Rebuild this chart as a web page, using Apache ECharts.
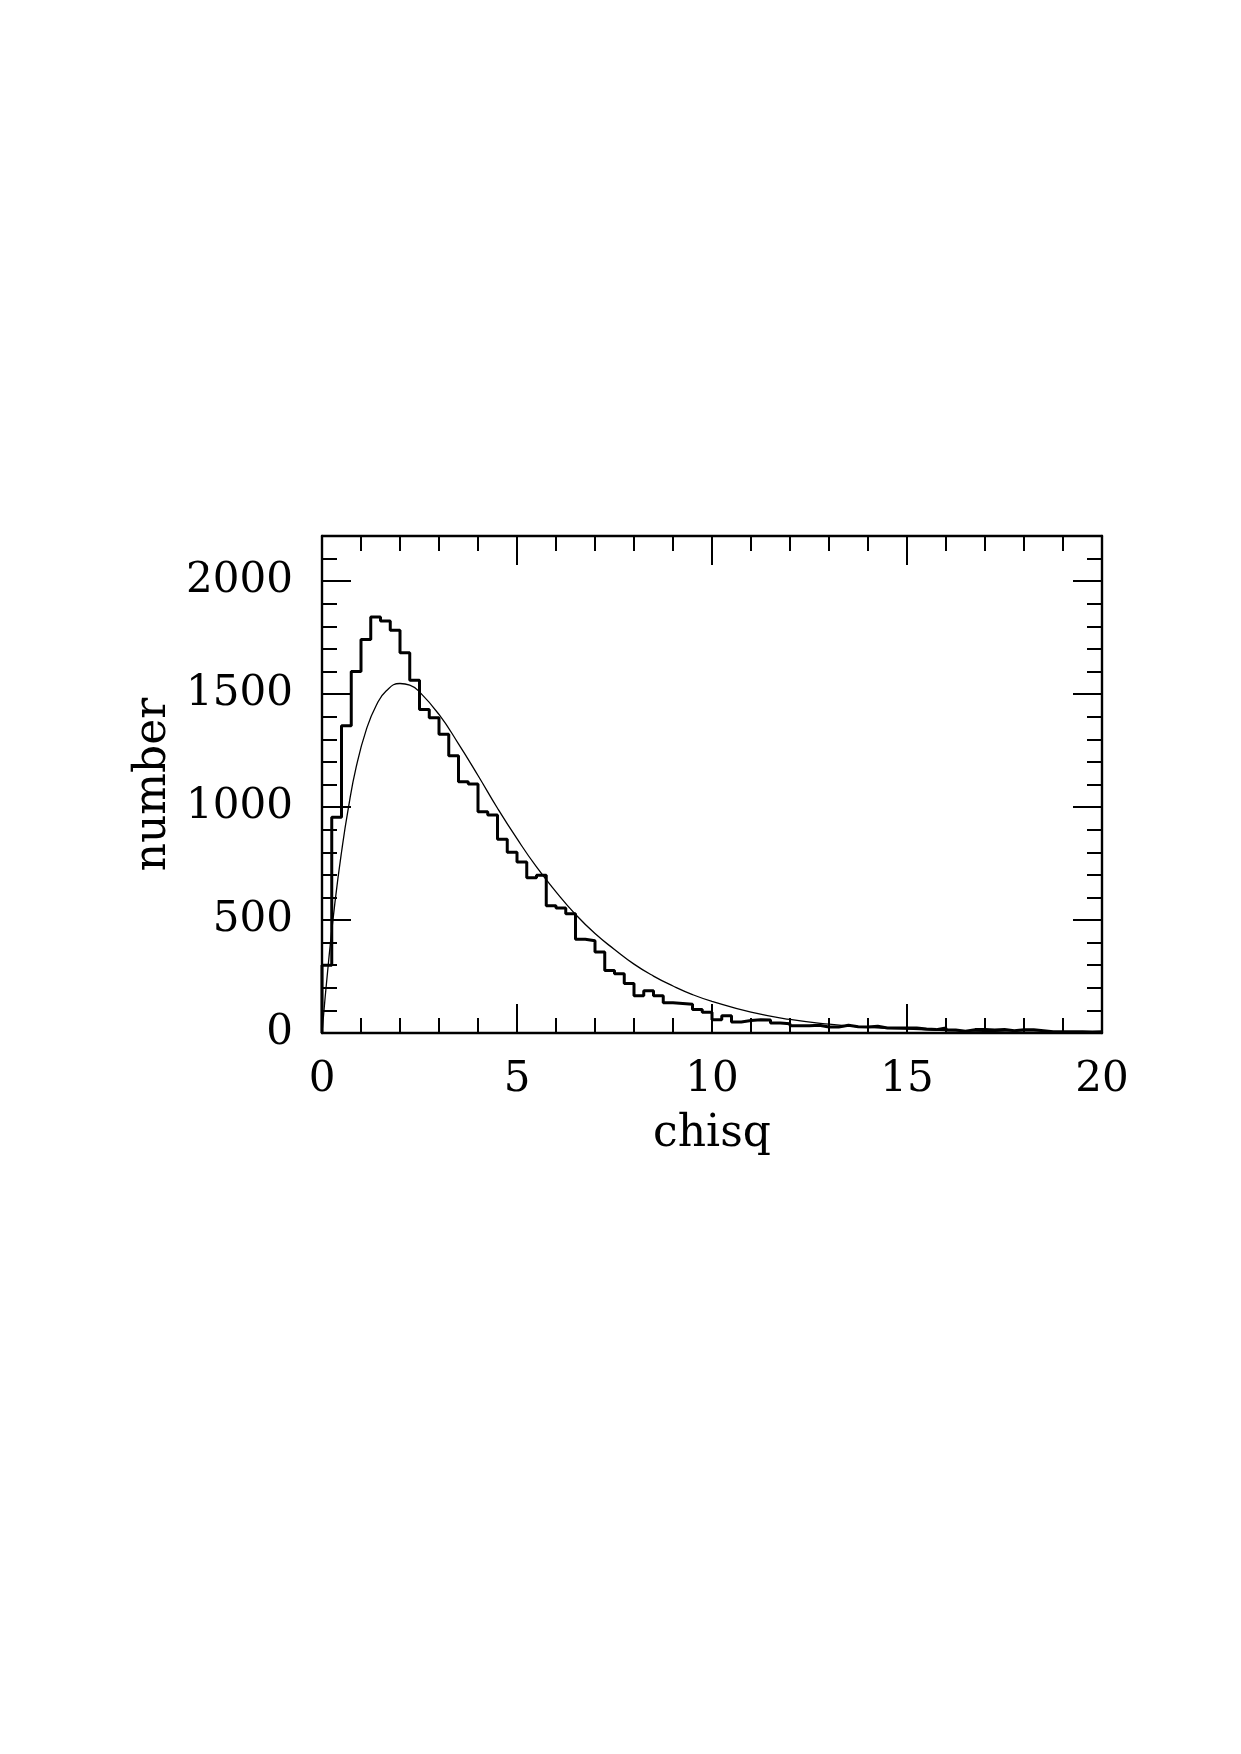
<!DOCTYPE html>
<html lang="en">
<head>
    <meta charset="UTF-8">
    <script src="https://cdn.jsdelivr.net/npm/echarts@6/dist/echarts.min.js"></script>
    <title>chisq</title>
    <style>
        html, body { margin: 0; padding: 0; background: #fff; }
        #chart { width: 1241px; height: 1754px; }
    </style>
</head>
<body>
<div id="chart"></div>
<script type="text/javascript">
    // histogram: bin width 0.25, 80 bins from 0 to 20
    var binWidth = 0.25;
    var counts = [
        300, 955, 1360, 1600, 1742, 1842, 1824, 1783, 1683, 1561,
        1432, 1395, 1322, 1227, 1112, 1102, 979, 965, 858, 800,
        757, 687, 698, 563, 553, 528, 415, 408, 358, 277,
        262, 219, 165, 187, 165, 134, 131, 127, 104, 92,
        59, 76, 49, 55, 59, 57, 44, 41, 32, 32,
        34, 27, 27, 34, 28, 27, 30, 22, 22, 22,
        22, 18, 15, 22, 13, 8, 15, 15, 13, 16,
        10, 14, 14, 10, 6, 6, 5, 5, 4, 5
    ];
    // smooth curve, points
    var curveX = [0, 0.17, 0.33, 0.5, 0.67, 0.88, 1.14, 1.39, 1.65, 2.0, 2.25, 2.5, 3.0, 3.5, 4.0, 4.5, 5.0,
        5.5, 6.0, 6.5, 7.0, 7.5, 8.0, 8.5, 9.0, 9.5, 10, 11, 12, 13, 14, 15, 16, 17, 18, 19, 20];
    var curveY = [0, 320, 575, 800, 990, 1180, 1345, 1450, 1515, 1547, 1540, 1510, 1410, 1280, 1140, 995, 860,
        735, 625, 525, 440, 370, 305, 252, 208, 170, 140, 92, 60, 39, 25, 17, 11, 7, 4, 3, 2];

    var histData = [[0, 0]];
    counts.forEach(function (c, i) { histData.push([i * binWidth, c]); });
    histData.push([counts.length * binWidth, counts[counts.length - 1]]);

    var curveData = curveX.map(function (x, i) { return [x, curveY[i]]; });

    var font = 'DejaVu Serif';
    var line = { color: '#000', width: 2.4 };
    var tickStyle = { color: '#000', width: 2 };
    var box = { left: 322, right: 139, top: 536, bottom: 721 };

    function xAx(pos, labels) {
        return {
            gridIndex: 0, type: 'value', position: pos, min: 0, max: 20, interval: 5,
            splitLine: { show: false },
            axisLine: { show: true, onZero: false, lineStyle: line },
            axisTick: { show: true, inside: true, length: 29, lineStyle: tickStyle },
            minorTick: { show: true, splitNumber: 5, length: 15, lineStyle: tickStyle },
            axisLabel: { show: labels, margin: 26, fontFamily: font, fontSize: 42, color: '#000' },
            name: labels ? 'chisq' : '',
            nameLocation: 'middle', nameGap: 80,
            nameTextStyle: { fontFamily: font, fontSize: 44, color: '#000' }
        };
    }
    function yMajor(pos, labels) {
        return {
            gridIndex: 0, type: 'value', position: pos, offset: 0, min: 0, max: 2200, interval: 500,
            splitLine: { show: false },
            axisLine: { show: true, onZero: false, lineStyle: line },
            axisTick: { show: true, inside: true, length: 29, lineStyle: tickStyle },
            axisLabel: {
                show: labels, margin: 29, fontFamily: font, fontSize: 42, color: '#000',
                showMaxLabel: false,
                formatter: function (v) { return String(v); }
            },
            name: labels ? 'number' : '',
            nameLocation: 'middle', nameGap: 146, nameRotate: 90,
            nameTextStyle: { fontFamily: font, fontSize: 44, color: '#000' }
        };
    }
    function yMinor(pos) {
        return {
            gridIndex: 1, type: 'value', position: pos, offset: 0, min: 0, max: 2200, interval: 100,
            splitLine: { show: false },
            axisLine: { show: false, onZero: false },
            axisTick: { show: true, inside: true, length: 15, lineStyle: tickStyle },
            axisLabel: { show: false }
        };
    }

    var myChart = echarts.init(document.getElementById('chart'));
    var option = {
        animation: false,
        backgroundColor: '#fff',
        grid: [box, box],
        xAxis: [
            xAx('bottom', true),
            xAx('top', false),
            { gridIndex: 1, type: 'value', min: 0, max: 20, show: false }
        ],
        yAxis: [yMajor('left', true), yMajor('right', false), yMinor('left'), yMinor('right')],
        series: [
            {
                name: 'histogram',
                type: 'line',
                step: 'end',
                xAxisIndex: 0, yAxisIndex: 0,
                data: histData,
                symbol: 'none',
                lineStyle: { color: '#000', width: 3 },
                z: 3
            },
            {
                name: 'curve',
                type: 'line',
                xAxisIndex: 0, yAxisIndex: 0,
                data: curveData,
                smooth: 0.5,
                symbol: 'none',
                lineStyle: { color: '#000', width: 1.3 },
                z: 4
            }
        ]
    };
    myChart.setOption(option);
</script>
</body>
</html>
